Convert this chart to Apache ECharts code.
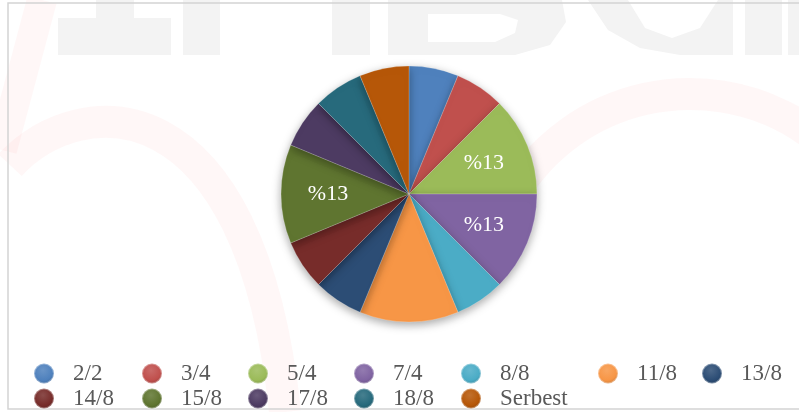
<!DOCTYPE html>
<html>
<head>
<meta charset="utf-8">
<script src="https://cdn.jsdelivr.net/npm/echarts@6/dist/echarts.min.js"></script>
<style>
  html, body { margin: 0; padding: 0; background: #fff; }
  #chart { width: 799px; height: 412px; }
</style>
</head>
<body>
<div id="chart"></div>
<script>
// dilimler (saat dilimleri) ve sayilari
var categories = ['2/2', '3/4', '5/4', '7/4', '8/8', '11/8', '13/8', '14/8', '15/8', '17/8', '18/8', 'Serbest'];
var counts = [1, 1, 2, 2, 1, 2, 1, 1, 2, 1, 1, 1];
var colors = ['#4f81bd', '#c0504d', '#9bbb59', '#8064a2', '#4bacc6', '#f79646',
  '#2c4d75', '#772c2a', '#5f7530', '#4d3b62', '#276a7c', '#b65708'];
// etiketi gorunen dilimler
var labelled = ['5/4', '7/4', '15/8'];

// legend yerlesimi (Excel gibi sabit sutunlar)
var legendCols = [33, 141, 247, 353, 460, 597, 701];
var legendRows = [362, 387];

var font = '"Liberation Serif", "Times New Roman", serif';

function shade(hex, f) {
  var n = parseInt(hex.slice(1), 16);
  var r = n >> 16, g = (n >> 8) & 255, b = n & 255;
  function c(v) {
    v = f > 0 ? v + (255 - v) * f : v * (1 + f);
    return Math.max(0, Math.min(255, Math.round(v)));
  }
  return 'rgb(' + c(r) + ',' + c(g) + ',' + c(b) + ')';
}

function iconColor(hex) {
  return {
    type: 'radial', x: 0.45, y: 0.35, r: 0.75,
    colorStops: [
      { offset: 0, color: shade(hex, 0.15) },
      { offset: 0.6, color: hex },
      { offset: 1, color: shade(hex, -0.25) }
    ]
  };
}

var pieData = categories.map(function (name, i) {
  return { name: name, value: counts[i], itemStyle: { color: colors[i] } };
});

var legends = categories.map(function (name, i) {
  return {
    data: [{ name: name, itemStyle: { color: iconColor(colors[i]) } }],
    left: legendCols[i % 7],
    top: legendRows[Math.floor(i / 7)],
    padding: 0,
    itemWidth: 20,
    itemHeight: 20,
    icon: 'circle',
    selectedMode: false,
    textStyle: {
      fontFamily: font,
      fontSize: 23,
      color: '#595959',
      padding: [0, 0, 0, 14]
    }
  };
});

var wm = '#f3f3f3';
var pink = 'rgba(255,60,60,0.045)';

var chart = echarts.init(document.getElementById('chart'));

var option = {
  backgroundColor: '#fff',
  animation: false,
  color: colors,
  graphic: [
    // arka plandaki silik filigran
    { type: 'rect', z: 0, shape: { x: 58, y: 18, width: 113, height: 37 }, style: { fill: wm } },
    { type: 'rect', z: 0, shape: { x: 96, y: 0, width: 38, height: 18 }, style: { fill: wm } },
    { type: 'rect', z: 0, shape: { x: 183, y: 0, width: 37, height: 55 }, style: { fill: wm } },
    { type: 'rect', z: 0, shape: { x: 332, y: 0, width: 38, height: 55 }, style: { fill: wm } },
    { type: 'rect', z: 0, shape: { x: 388, y: 0, width: 40, height: 55 }, style: { fill: wm } },
    { type: 'polygon', z: 0, shape: { points: [[428, 0], [562, 0], [566, 22], [550, 45], [515, 55], [428, 55], [428, 42], [495, 42], [515, 33], [518, 20], [500, 14], [428, 14]] }, style: { fill: wm } },
    { type: 'polygon', z: 0, shape: { points: [[588, 0], [628, 0], [645, 28], [672, 38], [700, 28], [718, 0], [733, 0], [733, 55], [680, 55], [640, 48], [608, 30]] }, style: { fill: wm } },
    { type: 'rect', z: 0, shape: { x: 745, y: 0, width: 37, height: 55 }, style: { fill: wm } },
    { type: 'rect', z: 0, shape: { x: 788, y: 0, width: 11, height: 55 }, style: { fill: wm } },
    { type: 'line', z: 0, shape: { x1: 42, y1: 0, x2: 2, y2: 150 }, style: { stroke: pink, lineWidth: 30 } },
    { type: 'bezierCurve', z: 0, shape: { x1: 10, y1: 165, cpx1: 80, cpy1: 90, cpx2: 250, cpy2: 80, x2: 285, y2: 412 }, style: { fill: null, stroke: pink, lineWidth: 32 } },
    { type: 'arc', z: 0, shape: { cx: 690, cy: 300, r: 206, startAngle: Math.PI * 1.05, endAngle: Math.PI * 1.95 }, style: { fill: null, stroke: pink, lineWidth: 32 } },
    // cerceve
    { type: 'rect', z: 1, shape: { x: 8, y: 3, width: 820, height: 406 }, style: { fill: null, stroke: '#d4d4d4', lineWidth: 1.5 } }
  ],
  legend: legends,
  series: [
    {
      type: 'pie',
      center: [409, 194],
      radius: 128,
      startAngle: 90,
      clockwise: true,
      data: pieData,
      label: { show: false },
      labelLine: { show: false },
      emphasis: { disabled: true },
      itemStyle: {
        borderColor: 'rgba(255,255,255,0.35)',
        borderWidth: 0.6,
        shadowBlur: 10,
        shadowColor: 'rgba(0,0,0,0.35)',
        shadowOffsetY: 3
      },
      z: 2
    },
    {
      // yalnizca etiketler icin gorunmez ikinci halka
      type: 'pie',
      center: [409, 194],
      radius: [28, 128],
      startAngle: 90,
      clockwise: true,
      silent: true,
      data: pieData.map(function (d) {
        return { name: d.name, value: d.value, itemStyle: { color: 'rgba(0,0,0,0)' } };
      }),
      itemStyle: { borderWidth: 0, shadowBlur: 0 },
      emphasis: { disabled: true },
      labelLine: { show: false },
      label: {
        show: true,
        position: 'inside',
        fontFamily: font,
        fontSize: 22,
        color: '#fff',
        formatter: function (p) {
          return labelled.indexOf(p.name) >= 0 ? '%' + Math.round(p.percent) : '';
        }
      },
      z: 3
    }
  ]
};

chart.setOption(option);
window.onresize = function () { chart.resize(); };
</script>
</body>
</html>
